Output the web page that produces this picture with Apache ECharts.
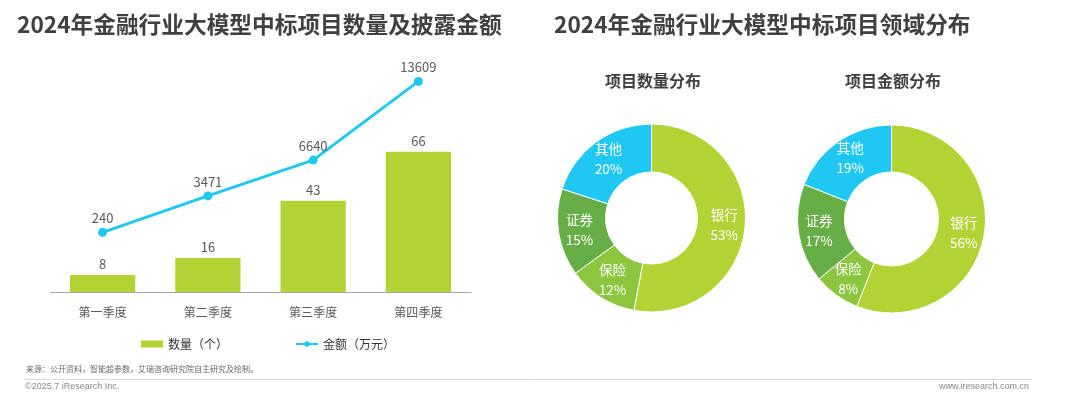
<!DOCTYPE html>
<html>
<head>
<meta charset="utf-8">
<style>
html,body{margin:0;padding:0;background:#fff;}
#main{width:1080px;height:397px;}
</style>
<script src="https://cdn.jsdelivr.net/npm/echarts@6/dist/echarts.min.js"></script>
</head>
<body>
<div id="main"></div>
<script>
// ---- data ----
const quarters = ['第一季度', '第二季度', '第三季度', '第四季度'];
const projectCounts = [8, 16, 43, 66];
const amounts = [240, 3471, 6640, 13609];
const sectors = ['银行', '保险', '证券', '其他'];
const countShare = [53, 12, 15, 20];
const amountShare = [56, 8, 17, 19];

const FONT = '"Noto Sans CJK SC", "Noto Sans", sans-serif';
const GREEN = '#B3D335';
const CYAN = '#1FC8F2';
const sectorColors = ['#B3D335', '#8CC63F', '#66AF46', '#1FC8F2'];

const chart = echarts.init(document.getElementById('main'), null, {renderer: 'canvas'});

function pieData(vals) {
  return sectors.map((n, i) => ({name: n, value: vals[i], itemStyle: {color: sectorColors[i]}}));
}
const pieLabel = {
  show: true, position: 'inside', color: '#fff', fontSize: 13.5, lineHeight: 20,
  fontFamily: FONT, formatter: p => p.name + '\n' + p.value + '%'
};

chart.setOption({
  textStyle: {fontFamily: FONT},
  animation: false,
  title: [
    {text: '2024年金融行业大模型中标项目数量及披露金额', left: 12, top: 8,
     textStyle: {fontSize: 22.7, fontWeight: 'bold', color: '#404040', fontFamily: FONT}},
    {text: '2024年金融行业大模型中标项目领域分布', left: 549, top: 8,
     textStyle: {fontSize: 22.7, fontWeight: 'bold', color: '#404040', fontFamily: FONT}},
    {text: '项目数量分布', left: 648, top: 68, textAlign: 'center',
     textStyle: {fontSize: 16, fontWeight: 'bold', color: '#404040', fontFamily: FONT}},
    {text: '项目金额分布', left: 888, top: 68, textAlign: 'center',
     textStyle: {fontSize: 16, fontWeight: 'bold', color: '#404040', fontFamily: FONT}}
  ],
  legend: {
    left: 136, top: 333, itemWidth: 22, itemHeight: 7, itemGap: 67,
    textStyle: {fontSize: 12, color: '#333', fontFamily: FONT},
    data: [{name: '数量（个）', icon: 'rect'}, {name: '金额（万元）'}]
  },
  grid: {left: 50, right: 609, top: 52, bottom: 105},
  xAxis: {
    type: 'category', data: quarters,
    axisLine: {lineStyle: {color: '#a6a6a6', width: 1}},
    axisTick: {show: false},
    axisLabel: {color: '#595959', fontSize: 12, margin: 14, fontFamily: FONT}
  },
  yAxis: [
    {type: 'value', min: 0, max: 113, show: false, splitLine: {show: false}},
    {type: 'value', min: -5040, max: 16210, show: false, splitLine: {show: false}}
  ],
  series: [
    {
      name: '数量（个）', type: 'bar', data: projectCounts, barWidth: '62%',
      itemStyle: {color: GREEN},
      label: {show: true, position: 'top', distance: 4, color: '#595959', fontSize: 13}
    },
    {
      name: '金额（万元）', type: 'line', yAxisIndex: 1, data: amounts,
      symbol: 'circle', symbolSize: 9,
      lineStyle: {color: CYAN, width: 3}, itemStyle: {color: CYAN},
      label: {show: true, position: 'top', distance: 3, color: '#595959', fontSize: 13}
    },
    {
      type: 'pie', center: [651.5, 218], radius: [46, 94], startAngle: 90,
      data: pieData(countShare), label: pieLabel, labelLine: {show: false},
      itemStyle: {borderColor: '#fff', borderWidth: 1}, emphasis: {disabled: true}
    },
    {
      type: 'pie', center: [891.5, 219], radius: [47, 94], startAngle: 90,
      data: pieData(amountShare), label: pieLabel, labelLine: {show: false},
      itemStyle: {borderColor: '#fff', borderWidth: 1}, emphasis: {disabled: true}
    }
  ],
  graphic: [
    {type: 'text', left: 26, top: 365,
     style: {text: '来源：公开资料，智能超参数，艾瑞咨询研究院自主研究及绘制。', fill: '#666', font: '8px ' + FONT}},
    {type: 'line', shape: {x1: 25, y1: 379.5, x2: 1032, y2: 379.5},
     style: {stroke: '#d9d9d9', lineWidth: 1}},
    {type: 'text', left: 25, top: 382,
     style: {text: '©2025.7 iResearch Inc.', fill: '#888', font: '9px Arial, "Liberation Sans", sans-serif'}},
    {type: 'text', right: 51, top: 382,
     style: {text: 'www.iresearch.com.cn', fill: '#888', font: '9px Arial, "Liberation Sans", sans-serif'}}
  ]
});
</script>
</body>
</html>
